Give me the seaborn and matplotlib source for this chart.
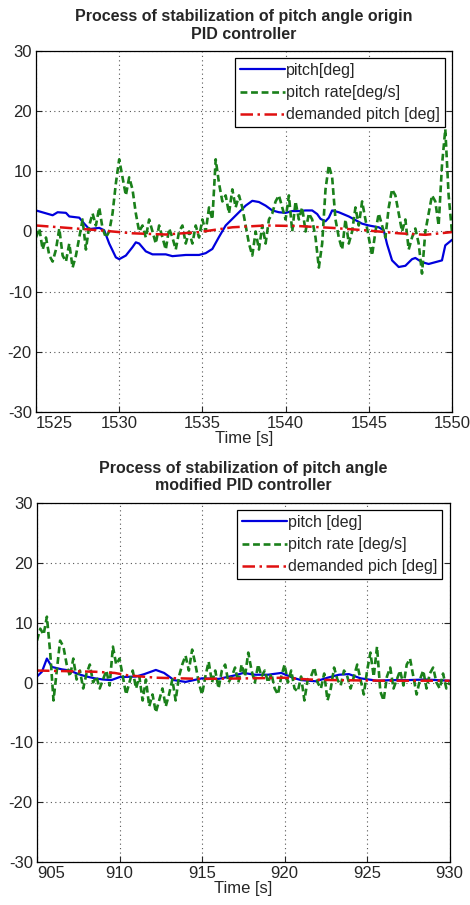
import numpy as np
import matplotlib
matplotlib.use("Agg")
import matplotlib.pyplot as plt
import seaborn as sns

sns.set_style("white")
plt.rcParams['font.family'] = ['Liberation Sans', 'DejaVu Sans']
plt.rcParams['axes.unicode_minus'] = False

# ---- upper chart: origin PID controller ----
top_title = "Process of stabilization of pitch angle origin\nPID controller"
top_labels = ["pitch[deg]", "pitch rate[deg/s]", "demanded pitch [deg]"]
top_xticks = [1525, 1530, 1535, 1540, 1545, 1550]

top_pitch_t = [1525.0, 1526.0, 1526.3, 1526.8, 1527.0, 1527.6, 1527.9, 1528.2, 1528.8, 1529.1,
               1529.4, 1529.8, 1530.0, 1530.4, 1530.8, 1531.0, 1531.2, 1531.6, 1532.0, 1532.8,
               1533.2, 1534.0, 1534.8, 1535.2, 1535.6, 1536.0, 1536.4, 1536.8, 1537.2, 1537.6,
               1538.0, 1538.4, 1538.8, 1539.2, 1539.6, 1540.0, 1540.4, 1540.8, 1541.2, 1541.6,
               1541.9, 1542.1, 1542.4, 1542.6, 1542.8, 1543.2, 1543.8, 1544.2, 1544.6, 1545.0,
               1545.6, 1545.9, 1546.1, 1546.4, 1546.8, 1547.2, 1547.6, 1547.8, 1548.2, 1548.6,
               1549.0, 1549.4, 1549.6, 1550.0]
top_pitch = [3.5, 2.7, 3.2, 3.1, 2.5, 2.3, 1.3, 0.4, 0.6, 0.2,
             -2.0, -4.3, -4.6, -4.0, -2.6, -1.8, -2.0, -3.3, -3.8, -3.8,
             -4.1, -3.9, -3.9, -3.6, -2.9, -0.9, 1.0, 2.1, 3.2, 4.3,
             5.1, 4.9, 4.3, 3.5, 3.2, 3.1, 3.4, 3.4, 3.5, 3.5,
             2.9, 2.1, 1.7, 2.3, 3.5, 3.2, 2.5, 1.9, 1.3, 1.0,
             0.7, 0.2, -2.1, -4.8, -5.9, -5.7, -4.6, -4.4, -5.1, -5.4,
             -5.1, -4.8, -2.3, -1.4]

# pitch rate sampled every 0.2 s
top_rate_t0 = 1525.0
top_rate = [-1, 0.5, -3, -1, -4,
            -5, -3, 0.5, -4, -5,
            -2, -6, -4, -1, 2,
            -3, 1, 3, 1, 4,
            0.5, -1, 0, 3, 8,
            12, 9, 6, 9, 7,
            3, 0, 1, -1, 2,
            0, -2, 1, -1, -3,
            0.5, -1, -3, 0, 1,
            -2, 0, -2, 1, -1,
            2, 0, 4, 2, 12,
            8, 5, 6, 3, 7,
            4, 6, 4, 1, -2,
            -4, 0, -3, 1, -2,
            2, 3, 5, 6, 4,
            2, 6, 0, 5, 2,
            4, 0, 3, 2, -1,
            -6, -2, 7, 11, 9,
            2, -1, -3, 2, -2,
            0, 4, 1, 5, 2,
            -1, -4, 0, 3, 1,
            -1, 4, 7, 6, 3,
            0, 2, -3, -1, 0.5,
            -2, -7, 0, 3, 6,
            5, 1, 11, 17, 6,
            0]

top_dem_t = [1525.0, 1528.8, 1530.8, 1532.8, 1534.8, 1536.8, 1538.8, 1540.8, 1542.8,
             1544.8, 1546.8, 1548.4, 1550.0]
top_dem = [1.0, 0.2, -0.3, -0.5, -0.1, 0.7, 1.0, 0.9, 0.6, 0.2, -0.3, -0.55, -0.1]

# ---- lower chart: modified PID controller ----
bot_title = "Process of stabilization of pitch angle\nmodified PID controller"
bot_labels = ["pitch [deg]", "pitch rate [deg/s]", "demanded pich [deg]"]
bot_xticks = [905, 910, 915, 920, 925, 930]

bot_pitch_t = [905.0, 905.3, 905.6, 905.9, 906.5, 907.0, 907.5, 908.0, 908.5, 909.0,
               909.5, 910.0, 911.0, 911.5, 912.2, 912.7, 913.3, 914.0, 914.5, 915.0,
               916.0, 917.0, 917.5, 918.2, 919.0, 919.8, 920.5, 921.0, 921.9, 922.6,
               923.3, 923.9, 924.6, 925.6, 926.5, 927.5, 928.5, 930.0]
bot_pitch = [1.0, 1.8, 4.0, 2.6, 2.2, 2.0, 1.4, 1.0, 0.7, 0.5,
             0.4, 0.9, 1.0, 1.4, 2.1, 1.6, 0.4, 0.1, 0.4, 0.7,
             0.6, 1.2, 1.6, 1.3, 1.3, 1.6, 0.8, 0.4, 0.2, 0.8,
             1.3, 1.4, 0.7, 0.3, 0.4, 0.4, 0.5, 0.3]

bot_rate_t0 = 905.0
bot_rate = [7, 9, 8, 11, 5,
            -3, 2, 7, 6, 3,
            1, 4, 0.5, 2, -1,
            1.5, 3, 0, 1, -1,
            0.5, 2, -0.5, 6, 3,
            4, 1, -2, 0, 2,
            -1, 1, -3, 0.5, -4,
            -2, -5, -3, -1, -4,
            -2, 0.5, -3, 1, 3,
            4.5, 2, 5.5, 3, 0,
            -2, 1, 3.5, 0, 2,
            -1, 2, 3, 0, 1,
            2.5, 0, 3, 1, 5,
            2, 0, 3, 1, 2,
            0, 1.5, -1, -2, 1,
            3, 0, 2, -1, -1.5,
            1, -3, 0.5, 1, 2.5,
            0, -1, 1.5, -3, -1,
            2.5, 0.5, -0.5, 2, 1,
            -1, 1, 3, 0.5, -2,
            2, 5, 1, 6, -1.5,
            -3, 1, 2.5, -1, 0.5,
            2, -0.5, 3, 4, 1,
            -2, 0.5, 2, -1, 1.5,
            2.5, 0, -1, 1.5, -1,
            0]

bot_dem_t = [905.0, 908.5, 909.7, 910.5, 912.2, 915.0, 918.0, 920.0, 921.5, 923.0, 926.0, 930.0]
bot_dem = [2.0, 1.8, 1.6, 1.2, 0.8, 0.6, 0.7, 0.8, 0.5, 0.4, 0.3, 0.3]

dt = 0.2
blue = '#0000dd'
green = '#1a801a'
red = '#e01010'


def draw(ax, title, labels, xticks, p_t, p, r_t0, r, d_t, d):
    r_t = r_t0 + dt * np.arange(len(r))
    sns.lineplot(x=p_t, y=p, ax=ax, color=blue, linewidth=1.6, label=labels[0])
    sns.lineplot(x=r_t, y=r, ax=ax, color=green, linewidth=1.9,
                 linestyle=(0, (2.6, 1.4)), label=labels[1])
    sns.lineplot(x=d_t, y=d, ax=ax, color=red, linewidth=1.8,
                 linestyle=(0, (5, 1.8, 1, 1.8)), label=labels[2])
    ax.set_xlim(xticks[0], xticks[-1])
    ax.set_ylim(-30, 30)
    ax.set_xticks(xticks)
    ax.set_yticks([-30, -20, -10, 0, 10, 20, 30])
    ax.set_xticklabels([str(v) for v in xticks])
    ax.tick_params(direction='in', length=4, width=0.8, labelsize=12, pad=3,
                   right=True, top=False, bottom=True, left=True)
    first = ax.get_xticklabels()[0]
    first.set_horizontalalignment('left')
    ax.grid(True, linestyle=(0, (1, 3)), color='#555555', linewidth=0.8)
    for s in ax.spines.values():
        s.set_color('black')
        s.set_linewidth(0.9)
    ax.set_title(title, fontsize=11.5, fontweight='bold', pad=9, linespacing=1.2)
    ax.set_xlabel("Time [s]", fontsize=12, labelpad=0)
    ax.set_ylabel("")
    leg = ax.legend(loc='upper right', fontsize=11.5, handlelength=2.8, handletextpad=0.1,
                    labelspacing=0.45, borderpad=0.3, borderaxespad=0.45,
                    fancybox=False, framealpha=1, edgecolor='black')
    leg.get_frame().set_linewidth(0.9)


fig = plt.figure(figsize=(4.7, 9.05), dpi=100)
ax1 = fig.add_axes([0.0766, 0.5448, 0.885, 0.3988])
ax2 = fig.add_axes([0.0787, 0.0475, 0.878, 0.3967])

draw(ax1, top_title, top_labels, top_xticks, top_pitch_t, top_pitch,
     top_rate_t0, top_rate, top_dem_t, top_dem)
draw(ax2, bot_title, bot_labels, bot_xticks, bot_pitch_t, bot_pitch,
     bot_rate_t0, bot_rate, bot_dem_t, bot_dem)

fig.savefig("out.png", dpi=100)
